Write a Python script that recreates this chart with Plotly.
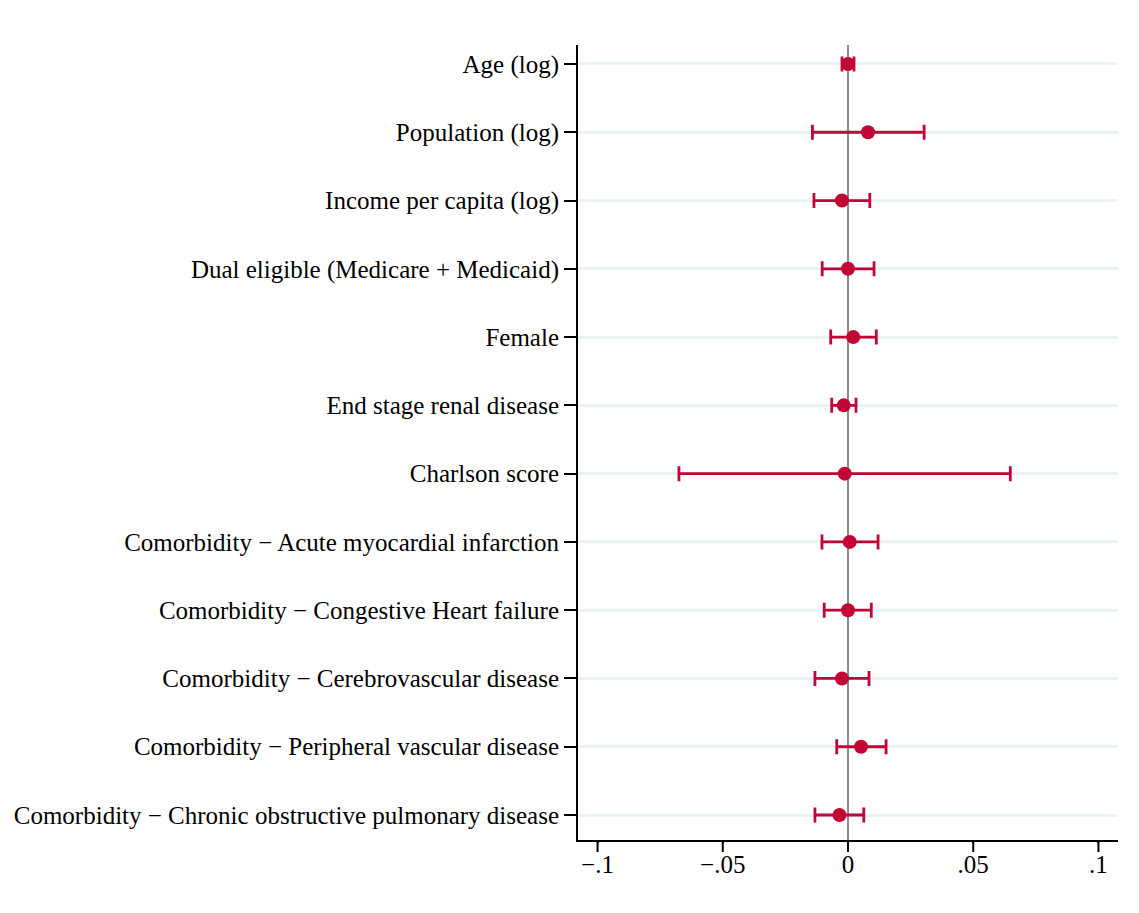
import plotly.graph_objects as go

labels = [
    "Age (log)",
    "Population (log)",
    "Income per capita (log)",
    "Dual eligible (Medicare + Medicaid)",
    "Female",
    "End stage renal disease",
    "Charlson score",
    "Comorbidity \u2212 Acute myocardial infarction",
    "Comorbidity \u2212 Congestive Heart failure",
    "Comorbidity \u2212 Cerebrovascular disease",
    "Comorbidity \u2212 Peripheral vascular disease",
    "Comorbidity \u2212 Chronic obstructive pulmonary disease",
]
estimate = [0.0, 0.008, -0.0024, 0.0, 0.0021, -0.0017, -0.0013, 0.0007, 0.0, -0.0024, 0.0052, -0.0034]
ci_low = [-0.0024, -0.0142, -0.0136, -0.0103, -0.0069, -0.0065, -0.0675, -0.0104, -0.0095, -0.0132, -0.0045, -0.0132]
ci_high = [0.0024, 0.0304, 0.0087, 0.0104, 0.0113, 0.0032, 0.0648, 0.012, 0.0093, 0.0084, 0.0152, 0.0063]

x_ticks = [-0.1, -0.05, 0, 0.05, 0.1]
x_ticktext = ["\u2212.1", "\u2212.05", "0", ".05", ".1"]

pos = list(range(1, len(labels) + 1))
err_plus = [h - e for h, e in zip(ci_high, estimate)]
err_minus = [e - l for e, l in zip(estimate, ci_low)]

color = "#c10534"
font = "Liberation Serif, Times New Roman, serif"
x_range = [-0.1078, 0.1078]

W, H = 1139, 913
M = dict(l=578, r=21, t=45, b=73)
plot_h = H - M["t"] - M["b"]
tick_len_px = 12

fig = go.Figure()
fig.add_trace(go.Scatter(
    x=estimate, y=pos, mode="markers",
    marker=dict(color=color, size=14),
    error_x=dict(type="data", symmetric=False, array=err_plus, arrayminus=err_minus,
                 color=color, thickness=2.8, width=7.5),
    showlegend=False,
))

# x tick marks drawn as short lines below the axis at the tick values
for t in x_ticks:
    fig.add_shape(type="line", xref="x", yref="paper",
                  x0=t, x1=t, y0=0, y1=-tick_len_px / plot_h,
                  line=dict(color="black", width=2), layer="above")

fig.update_layout(
    width=W, height=H,
    margin=M,
    plot_bgcolor="white", paper_bgcolor="white",
    font=dict(family=font, size=25, color="black"),
    xaxis=dict(
        range=x_range, tickvals=x_ticks, ticktext=x_ticktext,
        showgrid=False, zeroline=True, zerolinecolor="#8c8c8c", zerolinewidth=2,
        showline=True, linecolor="black", linewidth=2,
        ticks="outside", ticklen=1, tickwidth=2, tickcolor="black",
        tickfont=dict(size=25),
    ),
    yaxis=dict(
        range=[12.366, 0.722], tickvals=pos, ticktext=labels,
        showgrid=True, gridcolor="#eaf2f3", gridwidth=2.5, zeroline=False,
        showline=True, linecolor="black", linewidth=2,
        ticks="outside", ticklen=12, tickwidth=2, tickcolor="black",
        tickfont=dict(size=25), ticklabelstandoff=0,
    ),
)

fig.write_html("out.html", config={"displayModeBar": False},
               post_script="document.body.style.margin='0';")
